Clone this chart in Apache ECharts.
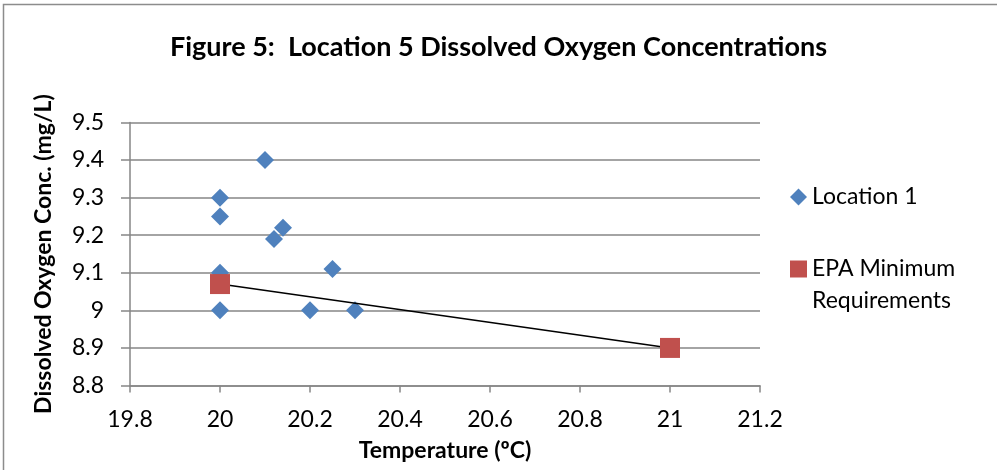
<!DOCTYPE html>
<html>
<head>
<meta charset="utf-8">
<script src="https://cdn.jsdelivr.net/npm/echarts@6/dist/echarts.min.js"></script>
<style>html,body{margin:0;padding:0;background:#fff}#c{width:997px;height:470px}</style>
</head>
<body>
<div id="c"></div>
<script>
var titleText = 'Figure 5:  Location 5 Dissolved Oxygen Concentrations';
var loc1Name = 'Location 1';
var epaName = 'EPA Minimum Requirements';
var loc1Temp = [20, 20, 20.1, 20.12, 20.14, 20, 20, 20.2, 20.25, 20.3];
var loc1DO   = [9.3, 9.25, 9.4, 9.19, 9.22, 9.1, 9.0, 9.0, 9.11, 9.0];
var epaTemp = [20, 21];
var epaDO   = [9.07, 8.9];

var font = 'Lato, "Open Sans", sans-serif';
var chart = echarts.init(document.getElementById('c'));
chart.setOption({
  animation: false,
  backgroundColor: '#fff',
  graphic: [{type:'rect', shape:{x:3.5,y:4.5,width:1000,height:500}, style:{fill:'none', stroke:'#8c8c8c', lineWidth:1.5}, silent:true}],
  title: {
    text: titleText, left: 'center', top: 29,
    textStyle: {fontFamily: font, fontWeight: 'bold', fontSize: 27, color: '#000'}
  },
  legend: {
    orient: 'vertical', left: 785, top: 176, itemGap: 8,
    itemWidth: 17, itemHeight: 17,
    textStyle: {fontFamily: font, fontSize: 23, color: '#000', lineHeight: 32},
    formatter: function(n){ return n === epaName ? '\u00a0\nEPA Minimum\nRequirements' : n; },
    data: [{name: loc1Name, icon: 'diamond'}, {name: epaName, icon: 'rect'}]
  },
  grid: {left: 130, right: 237, top: 122.5, bottom: 84.5, containLabel: false, outerBoundsMode: 'none'},
  xAxis: {
    type: 'value', min: 19.8, max: 21.2, interval: 0.2,
    name: 'Temperature (\u00baC)', nameLocation: 'middle', nameGap: 54,
    nameTextStyle: {fontFamily: font, fontWeight: 'bold', fontSize: 23, color: '#000'},
    axisLine: {show: true, lineStyle: {color: '#868686', width: 1.5}},
    axisTick: {show: true, inside: false, length: 7, lineStyle: {color: '#868686', width: 1.5}},
    axisLabel: {fontFamily: font, fontSize: 23, color: '#000', margin: 23},
    splitLine: {show: false}
  },
  yAxis: {
    type: 'value', min: 8.8, max: 9.5, interval: 0.1,
    name: 'Dissolved Oxygen Conc. (mg/L)', nameLocation: 'middle', nameGap: 75, nameRotate: 90,
    nameTextStyle: {fontFamily: font, fontWeight: 'bold', fontSize: 23, color: '#000'},
    axisLine: {show: true, lineStyle: {color: '#868686', width: 1.5}},
    axisTick: {show: true, inside: false, length: 9, lineStyle: {color: '#868686', width: 1.5}},
    axisLabel: {fontFamily: font, fontSize: 23, color: '#000', margin: 26},
    splitLine: {show: true, lineStyle: {color: '#868686', width: 1.5}}
  },
  series: [
    {
      name: loc1Name, type: 'scatter', symbol: 'diamond', symbolSize: 18,
      itemStyle: {color: '#4F81BD', opacity: 1},
      data: loc1Temp.map(function(t, i){ return [t, loc1DO[i]]; }), z: 2
    },
    {
      name: epaName, type: 'line', symbol: 'rect', symbolSize: 20, showSymbol: true,
      itemStyle: {color: '#C0504D', opacity: 1},
      lineStyle: {color: '#000', width: 1.5},
      data: epaTemp.map(function(t, i){ return [t, epaDO[i]]; }), z: 3
    }
  ]
});
</script>
</body>
</html>
